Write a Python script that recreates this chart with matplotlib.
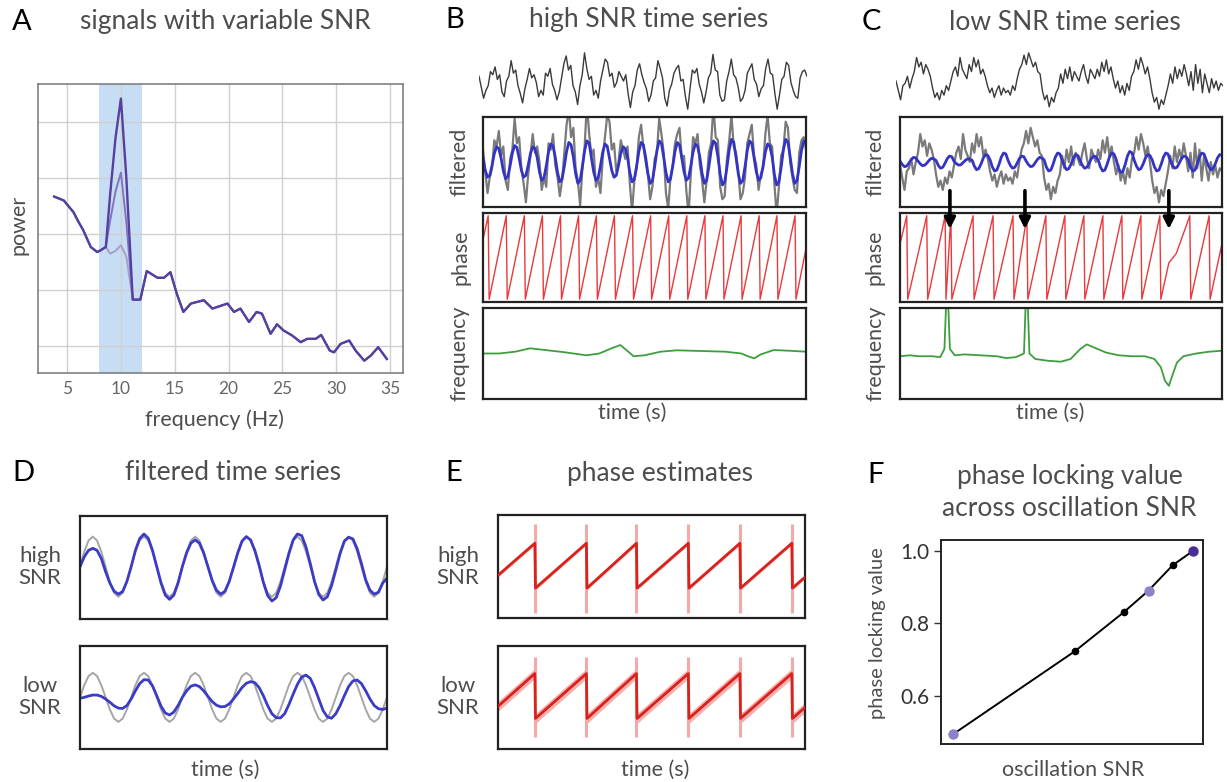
import numpy as np
import matplotlib
matplotlib.use("Agg")
import matplotlib.pyplot as plt

plt.rcParams['font.family'] = ['Lato', 'DejaVu Sans']

# ---------------- data ----------------
# Panel A: power spectra (arbitrary log-power units)
A_freqs = [3.8, 4.7, 5.6, 6.0, 6.5, 7.2, 7.8, 8.1, 8.6, 9.0, 9.5, 10.0, 10.5, 11.1, 11.8,
           12.4, 13.4, 14.0, 14.6, 15.2, 15.8, 16.5, 17.7, 18.5, 19.9, 20.5, 21.1, 21.9,
           22.6, 23.1, 23.9, 24.5, 25.1, 25.9, 26.7, 27.3, 28.1, 28.6, 29.4, 29.8, 30.4,
           31.2, 31.8, 32.6, 33.2, 33.9, 34.7]
A_base = [2.67, 2.60, 2.39, 2.24, 2.07, 1.77, 1.68, 1.71, 1.77, 1.65, 1.70, 1.80, 1.60, 0.83, 0.83,
          1.34, 1.22, 1.22, 1.32, 0.93, 0.61, 0.76, 0.82, 0.67, 0.76, 0.61, 0.67, 0.43,
          0.61, 0.58, 0.22, 0.39, 0.28, 0.19, 0.07, 0.13, 0.13, 0.20, -0.08, -0.11, 0.04,
          0.10, -0.08, -0.26, -0.17, -0.02, -0.23]
A_mid = [2.67, 2.60, 2.39, 2.24, 2.07, 1.77, 1.68, 1.71, 1.77, 2.24, 2.76, 3.10, 2.22, 0.83, 0.83,
         1.34, 1.22, 1.22, 1.32, 0.93, 0.61, 0.76, 0.82, 0.67, 0.76, 0.61, 0.67, 0.43,
         0.61, 0.58, 0.22, 0.39, 0.28, 0.19, 0.07, 0.13, 0.13, 0.20, -0.08, -0.11, 0.04,
         0.10, -0.08, -0.26, -0.17, -0.02, -0.23]
A_high = [2.67, 2.60, 2.39, 2.24, 2.07, 1.77, 1.68, 1.71, 1.77, 2.71, 3.72, 4.42, 3.02, 0.83, 0.83,
          1.34, 1.22, 1.22, 1.32, 0.93, 0.61, 0.76, 0.82, 0.67, 0.76, 0.61, 0.67, 0.43,
          0.61, 0.58, 0.22, 0.39, 0.28, 0.19, 0.07, 0.13, 0.13, 0.20, -0.08, -0.11, 0.04,
          0.10, -0.08, -0.26, -0.17, -0.02, -0.23]
A_xticks = [5, 10, 15, 20, 25, 30, 35]

# Panel B: high SNR time series (144 samples across the window)
B_raw = [0.4, -0.3, -1.0, -0.5, -0.2, 0.7, 0.5, 1.0,
         0.2, 0.5, -0.6, -0.9, 0.1, 0.4, 1.4, 0.6,
         0.8, -0.2, -0.7, -1.3, -0.4, 0.2, 0.9, 0.3,
         0.5, 0.0, -0.9, -0.5, -0.8, 0.6, 0.4, 0.9,
         -0.1, -0.5, -1.1, -0.6, 0.3, 1.2, 1.7, 0.8,
         1.1, -0.2, -0.6, -1.4, -0.2, 0.5, 1.9, 0.9,
         0.2, 0.4, -0.8, -0.5, -1.0, 0.1, 0.8, 1.5,
         1.3, 0.4, 0.6, -0.3, 0.0, 0.7, 0.4, 0.1,
         0.5, -0.7, -1.6, -0.6, -0.2, 0.8, 1.2, 0.5,
         0.0, -0.4, -1.2, -0.8, 0.1, 0.3, 1.4, 0.9,
         0.3, -1.0, -1.5, -0.5, -0.1, 0.6, 0.9, 1.1,
         0.1, 0.2, -0.9, -1.7, -0.4, 0.8, 0.6, 0.9,
         -0.1, -0.6, -1.3, -0.6, 0.3, 0.6, 1.8, 0.8,
         0.7, -0.8, -1.2, -1.1, 0.1, 0.7, 1.5, 0.5,
         0.3, -0.3, -1.2, -1.0, -0.5, 0.6, 0.9, 1.2,
         0.2, -0.1, -0.9, -0.4, -0.2, 0.9, 1.5, 0.6,
         0.5, -0.7, -1.7, -0.8, 0.2, 0.4, 1.3, 1.1,
         0.0, -0.5, -0.9, -1.0, 0.3, 0.7, 0.8, 0.4]
B_filt = [0.12, -0.27, -0.49, -0.43, -0.11, 0.27, 0.49, 0.43,
          0.13, -0.29, -0.54, -0.47, -0.12, 0.29, 0.53, 0.47,
          0.12, -0.27, -0.49, -0.43, -0.11, 0.27, 0.49, 0.43,
          0.14, -0.32, -0.59, -0.51, -0.13, 0.32, 0.58, 0.51,
          0.15, -0.34, -0.64, -0.55, -0.14, 0.34, 0.63, 0.55,
          0.16, -0.37, -0.69, -0.60, -0.15, 0.37, 0.68, 0.60,
          0.14, -0.32, -0.59, -0.51, -0.13, 0.32, 0.58, 0.51,
          0.12, -0.27, -0.49, -0.43, -0.11, 0.27, 0.49, 0.43,
          0.15, -0.34, -0.64, -0.55, -0.14, 0.34, 0.63, 0.55,
          0.16, -0.37, -0.69, -0.60, -0.15, 0.37, 0.68, 0.60,
          0.15, -0.34, -0.64, -0.55, -0.14, 0.34, 0.63, 0.55,
          0.14, -0.32, -0.59, -0.51, -0.13, 0.32, 0.58, 0.51,
          0.16, -0.37, -0.69, -0.60, -0.15, 0.37, 0.68, 0.60,
          0.17, -0.40, -0.74, -0.64, -0.17, 0.40, 0.73, 0.64,
          0.16, -0.37, -0.69, -0.60, -0.15, 0.37, 0.68, 0.60,
          0.14, -0.32, -0.59, -0.51, -0.13, 0.32, 0.58, 0.51,
          0.17, -0.40, -0.74, -0.64, -0.17, 0.40, 0.73, 0.64,
          0.16, -0.37, -0.69, -0.60, -0.15, 0.37, 0.68, 0.60]
B_wraps = [0.016, 0.072, 0.128, 0.184, 0.240, 0.296, 0.351, 0.407, 0.463, 0.519,
           0.575, 0.631, 0.687, 0.743, 0.799, 0.855, 0.910, 0.966]
B_phase_ends = [1.34, 0.68]
B_freq_t = [0.0, 0.05, 0.10, 0.146, 0.20, 0.25, 0.32, 0.36, 0.40, 0.425, 0.45, 0.466, 0.50,
            0.55, 0.60, 0.65, 0.70, 0.75, 0.80, 0.82, 0.84, 0.86, 0.90, 0.95, 1.0]
B_freq_v = [0.50, 0.50, 0.52, 0.557, 0.535, 0.515, 0.48, 0.50, 0.56, 0.593, 0.52, 0.47, 0.48,
            0.52, 0.535, 0.53, 0.525, 0.52, 0.50, 0.47, 0.447, 0.49, 0.538, 0.53, 0.52]

# Panel C: low SNR time series
C_raw = [-0.1, -0.5, -0.9, -0.3, -0.2, 0.1, -0.4, 0.0,
         0.3, 0.9, 0.5, 0.7, 0.2, 0.6, 0.4, 0.1,
         -0.4, -0.8, -0.6, -0.9, -0.5, -0.7, -0.3, -0.5,
         -0.1, 0.3, 0.5, 0.1, 0.9, 0.4, 0.2, 0.0,
         0.6, 0.3, 0.9, 0.5, 0.8, 0.2, 0.4, 0.1,
         -0.3, -0.6, -0.4, -0.8, -0.5, -0.3, -0.7, -0.4,
         -0.6, -0.5, -0.7, -0.3, -0.5, 0.0, 0.4, 0.6,
         1.0, 0.6, 1.1, 0.8, 0.5, 0.7, 0.3, 0.2,
         -0.5, -0.9, -0.7, -1.2, -0.8, -1.0, -0.6, -0.4,
         0.2, -0.2, 0.4, 0.0, 0.5, -0.1, 0.3, 0.1,
         -0.1, 0.3, 0.6, 0.1, -0.2, 0.4, 0.2, 0.0,
         0.4, 0.1, 0.7, 0.3, 0.8, 0.2, 0.5, 0.0,
         -0.4, -0.1, -0.6, -0.3, -0.7, -0.2, -0.5, 0.1,
         0.3, 0.8, 0.4, 0.9, 0.6, 0.2, 0.5, 0.0,
         -0.6, -1.0, -0.8, -1.3, -0.9, -1.1, -0.7, -0.3,
         0.2, -0.2, 0.5, 0.0, 0.4, 0.1, 0.6, 0.2,
         -0.3, 0.3, -0.5, 0.6, -0.2, 0.4, -0.6, 0.2,
         -0.2, -0.6, 0.0, -0.4, -0.1, -0.5, -0.2, -0.3]
C_filt = [0.03, -0.08, -0.15, -0.13, -0.03, 0.08, 0.15, 0.13,
          0.03, -0.06, -0.12, -0.10, -0.03, 0.06, 0.12, 0.10,
          0.05, -0.11, -0.20, -0.17, -0.04, 0.11, 0.19, 0.17,
          0.02, -0.05, -0.10, -0.09, -0.02, 0.05, 0.10, 0.09,
          0.06, -0.13, -0.25, -0.21, -0.06, 0.13, 0.24, 0.21,
          0.07, -0.16, -0.29, -0.26, -0.07, 0.16, 0.29, 0.26,
          0.05, -0.11, -0.20, -0.17, -0.04, 0.11, 0.19, 0.17,
          0.03, -0.08, -0.15, -0.13, -0.03, 0.08, 0.15, 0.13,
          0.07, -0.16, -0.29, -0.26, -0.07, 0.16, 0.29, 0.26,
          0.06, -0.13, -0.25, -0.21, -0.06, 0.13, 0.24, 0.21,
          0.05, -0.11, -0.20, -0.17, -0.04, 0.11, 0.19, 0.17,
          0.07, -0.16, -0.29, -0.26, -0.07, 0.16, 0.29, 0.26,
          0.08, -0.19, -0.34, -0.30, -0.08, 0.19, 0.34, 0.30,
          0.06, -0.13, -0.25, -0.21, -0.06, 0.13, 0.24, 0.21,
          0.07, -0.16, -0.29, -0.26, -0.07, 0.16, 0.29, 0.26,
          0.05, -0.11, -0.20, -0.17, -0.04, 0.11, 0.19, 0.17,
          0.07, -0.16, -0.29, -0.26, -0.07, 0.16, 0.29, 0.26,
          0.06, -0.13, -0.25, -0.21, -0.06, 0.13, 0.24, 0.21]
C_wraps = [0.021, 0.083, 0.140, 0.158, 0.227, 0.289, 0.351, 0.394, 0.453, 0.512,
           0.571, 0.630, 0.689, 0.748, 0.807, 0.900, 0.960]
C_phase_ends = [1.01, 1.05]
C_kink_t = [0.835, 0.858]
C_kink_v = [-0.4, 0.3]
C_arrows_t = [0.155, 0.388, 0.835]
C_freq_t = [0.0, 0.03, 0.06, 0.10, 0.125, 0.138, 0.143, 0.150, 0.155, 0.17, 0.20, 0.25, 0.30,
            0.33, 0.36, 0.385, 0.39, 0.397, 0.402, 0.42, 0.46, 0.50, 0.53, 0.56, 0.58, 0.60,
            0.64, 0.68, 0.72, 0.76, 0.79, 0.81, 0.823, 0.835, 0.845, 0.86, 0.88, 0.92, 0.96, 1.0]
C_freq_v = [0.47, 0.48, 0.47, 0.47, 0.46, 0.55, 1.02, 1.02, 0.55, 0.48, 0.49, 0.48, 0.47,
            0.45, 0.46, 0.50, 1.02, 1.02, 0.50, 0.44, 0.42, 0.41, 0.44, 0.55, 0.60, 0.57,
            0.51, 0.48, 0.47, 0.47, 0.44, 0.35, 0.20, 0.145, 0.25, 0.40, 0.47, 0.50, 0.52, 0.53]

# Panel D: filtered time series (73 samples)
D_true_high = [0, 0.46, 0.80, 0.92, 0.80, 0.46, 0, -0.46, -0.80, -0.92, -0.80, -0.46,
               0, 0.46, 0.80, 0.92, 0.80, 0.46, 0, -0.46, -0.80, -0.92, -0.80, -0.46,
               0, 0.46, 0.80, 0.92, 0.80, 0.46, 0, -0.46, -0.80, -0.92, -0.80, -0.46,
               0, 0.46, 0.80, 0.92, 0.80, 0.46, 0, -0.46, -0.80, -0.92, -0.80, -0.46,
               0, 0.46, 0.80, 0.92, 0.80, 0.46, 0, -0.46, -0.80, -0.92, -0.80, -0.46,
               0, 0.46, 0.80, 0.92, 0.80, 0.46, 0, -0.46, -0.80, -0.92, -0.80, -0.46, 0]
D_filt_high = [0.0, 0.3, 0.5, 0.56, 0.5, 0.25, -0.15, -0.5, -0.75, -0.84, -0.76, -0.45,
               0.0, 0.5, 0.86, 1.0, 0.87, 0.5, 0.0, -0.5, -0.87, -1.0, -0.87, -0.5,
               0.0, 0.42, 0.72, 0.82, 0.72, 0.42, 0.0, -0.42, -0.72, -0.84, -0.75, -0.45,
               -0.02, 0.42, 0.78, 0.92, 0.82, 0.5, 0.05, -0.48, -0.88, -1.05, -0.95, -0.6,
               -0.1, 0.4, 0.82, 1.0, 0.95, 0.6, 0.1, -0.45, -0.85, -1.02, -0.92, -0.58,
               -0.1, 0.4, 0.78, 0.9, 0.85, 0.55, 0.1, -0.4, -0.72, -0.84, -0.78, -0.5, -0.35]
D_true_low = [0, 0.37, 0.65, 0.75, 0.65, 0.37, 0, -0.37, -0.65, -0.75, -0.65, -0.37,
              0, 0.37, 0.65, 0.75, 0.65, 0.37, 0, -0.37, -0.65, -0.75, -0.65, -0.37,
              0, 0.37, 0.65, 0.75, 0.65, 0.37, 0, -0.37, -0.65, -0.75, -0.65, -0.37,
              0, 0.37, 0.65, 0.75, 0.65, 0.37, 0, -0.37, -0.65, -0.75, -0.65, -0.37,
              0, 0.37, 0.65, 0.75, 0.65, 0.37, 0, -0.37, -0.65, -0.75, -0.65, -0.37,
              0, 0.37, 0.65, 0.75, 0.65, 0.37, 0, -0.37, -0.65, -0.75, -0.65, -0.37, 0]
D_filt_low = [-0.03, 0.0, 0.04, 0.07, 0.07, 0.03, -0.05, -0.15, -0.26, -0.33, -0.34, -0.25,
              -0.05, 0.2, 0.42, 0.54, 0.53, 0.35, 0.05, -0.27, -0.48, -0.54, -0.45, -0.25,
              0.0, 0.2, 0.34, 0.38, 0.33, 0.2, 0.03, -0.13, -0.24, -0.29, -0.28, -0.2,
              -0.05, 0.12, 0.3, 0.43, 0.48, 0.45, 0.3, 0.05, -0.25, -0.5, -0.62, -0.63,
              -0.5, -0.22, 0.1, 0.4, 0.62, 0.68, 0.58, 0.3, -0.05, -0.4, -0.6, -0.64,
              -0.5, -0.25, 0.05, 0.33, 0.5, 0.53, 0.42, 0.2, -0.05, -0.25, -0.35, -0.37, -0.33]

# Panel E: phase estimates
E_wraps = [0.120, 0.288, 0.451, 0.620, 0.788, 0.957]
E_high_ends = [-1.35, -1.6]
E_low_ends = [-1.45, -1.6]
E_high_spike = [-6.6, 5.9]
E_low_spike = [-5.7, 5.5]
E_high_band = 0.25
E_low_band = 0.7

# Panel F: phase locking value vs SNR
F_snr = [0.046, 0.51, 0.697, 0.792, 0.884, 0.962]
F_plv = [0.493, 0.722, 0.83, 0.89, 0.96, 1.0]
F_colors = ['#8d82c6', 'black', 'black', '#8d82c6', 'black', '#4a2c98']
F_sizes = [7.5, 5.5, 5.5, 7.5, 5.5, 7.5]
F_yticks = [0.6, 0.8, 1.0]

# ---------------- figure ----------------
W, H = 1227, 782
fig = plt.figure(figsize=(W / 100, H / 100), dpi=100)
TXT = '#4d4d4d'
PI = np.pi


def pax(x0, y0, x1, y1):
    return fig.add_axes([x0 / W, 1 - y1 / H, (x1 - x0) / W, (y1 - y0) / H])


def ftext(x, y, s, **kw):
    kw.setdefault('color', TXT)
    kw.setdefault('ha', 'center')
    kw.setdefault('va', 'center')
    fig.text(x / W, 1 - y / H, s, **kw)


def boxify(ax, lw=1.6, color='#222222'):
    ax.set_xticks([])
    ax.set_yticks([])
    for s in ax.spines.values():
        s.set_linewidth(lw)
        s.set_color(color)


def saw_vertices(wraps, ends, extra_t=(), extra_v=(), gap=0.003):
    pts = [(0.0, ends[0])]
    for w in wraps:
        pts.append((w, PI))
        pts.append((w + gap, -PI))
    pts += list(zip(extra_t, extra_v))
    pts.append((1.0, ends[1]))
    pts.sort(key=lambda p: p[0])
    return [p[0] for p in pts], [p[1] for p in pts]


LETTER = dict(color='black', fontsize=21, ha='left')
TITLE = dict(fontsize=19)
LABEL = dict(fontsize=15.5)
ROW = dict(fontsize=16, linespacing=1.1)

# ---- Panel A ----
axA = pax(38, 84, 403, 373)
axA.axvspan(8, 12, color='#c6ddf3', zorder=0.3, lw=0)
axA.plot(A_freqs, A_base, color='#a69ecb', lw=1.4, zorder=3)
axA.plot(A_freqs, A_mid, color='#8474c0', lw=1.4, zorder=3)
axA.plot(A_freqs, A_high, color='#55409e', lw=1.7, zorder=4)
axA.set_xlim(2.3, 36.2)
axA.set_ylim(-0.48, 4.68)
axA.set_xticks(A_xticks)
axA.set_yticks([0, 1, 2, 3, 4])
axA.set_yticklabels([])
axA.grid(True, color='#d0d0d0', lw=1)
axA.set_axisbelow(True)
axA.tick_params(length=0, labelsize=12.5, labelcolor='#666666', pad=6)
for s in axA.spines.values():
    s.set_color('#777777')
    s.set_linewidth(1.1)
ftext(12, 22, 'A', **LETTER)
ftext(225, 22, 'signals with variable SNR', **TITLE)
ftext(214, 420, 'frequency (Hz)', **LABEL)
ftext(18, 225, 'power', rotation=90, **LABEL)

# ---- Panels B and C ----
def ts_panel(xl, xr, raw, filt, wraps, ends, kink_t, kink_v, ft, fv):
    t = np.linspace(0, 1, len(raw))
    tf = np.linspace(0, 1, len(filt))
    axr = pax(xl - 4, 50, xr + 1, 112)
    axr.plot(t, raw, color='#3a3a3a', lw=1.0)
    axr.set_xlim(0, 1)
    axr.axis('off')

    axf = pax(xl, 117, xr, 207)
    axf.plot(t, raw, color='#7a7a7a', lw=1.6)
    axf.plot(tf, filt, color='#3434c4', lw=2.0)
    axf.set_xlim(0, 1)
    axf.set_ylim(-1.45, 1.45)
    boxify(axf)

    axp = pax(xl, 213, xr, 302)
    pt, pv = saw_vertices(wraps, ends, kink_t, kink_v)
    axp.plot(pt, pv, color='#e8393d', lw=1.0)
    axp.set_xlim(0, 1)
    axp.set_ylim(-3.35, 3.35)
    boxify(axp)
    axp.set_zorder(5)

    axq = pax(xl, 308, xr, 399)
    axq.plot(ft, fv, color='#3e9e3e', lw=1.3)
    axq.set_xlim(0, 1)
    axq.set_ylim(0, 1)
    boxify(axq)
    return axf, axp, axq


ts_panel(483, 806, B_raw, B_filt, B_wraps, B_phase_ends, [], [], B_freq_t, B_freq_v)
ftext(445, 20, 'B', **LETTER)
ftext(649, 20, 'high SNR time series', **TITLE)
ftext(460, 162, 'filtered', rotation=90, **LABEL)
ftext(460, 257, 'phase', rotation=90, **LABEL)
ftext(460, 353, 'frequency', rotation=90, **LABEL)
ftext(632, 413, 'time (s)', **LABEL)

axCf, axCp, axCq = ts_panel(900, 1222, C_raw, C_filt, C_wraps, C_phase_ends,
                            C_kink_t, C_kink_v, C_freq_t, C_freq_v)
for ta in C_arrows_t:
    axCp.annotate('', xy=(ta, 0.82), xytext=(ta, 1.25),
                  xycoords=('data', 'axes fraction'), textcoords=('data', 'axes fraction'),
                  arrowprops=dict(arrowstyle='-|>', lw=2.6, color='black', mutation_scale=16,
                                  shrinkA=0, shrinkB=0),
                  annotation_clip=False)
ftext(862, 22, 'C', **LETTER)
ftext(1065, 22, 'low SNR time series', **TITLE)
ftext(875, 162, 'filtered', rotation=90, **LABEL)
ftext(875, 257, 'phase', rotation=90, **LABEL)
ftext(875, 353, 'frequency', rotation=90, **LABEL)
ftext(1050, 413, 'time (s)', **LABEL)

# ---- Panel D ----
tD = np.linspace(0, 1, len(D_true_high))
axDh = pax(80, 516, 387, 619)
axDh.plot(tD, D_true_high, color='#a5a5a5', lw=1.4)
axDh.plot(tD, D_filt_high, color='#3b3bc6', lw=2.0)
axDh.set_xlim(0, 1)
axDh.set_ylim(-1.6, 1.55)
boxify(axDh)
axDl = pax(80, 646, 387, 749)
axDl.plot(tD, D_true_low, color='#a5a5a5', lw=1.4)
axDl.plot(tD, D_filt_low, color='#3b3bc6', lw=2.0)
axDl.set_xlim(0, 1)
axDl.set_ylim(-1.58, 1.57)
boxify(axDl)
ftext(12, 473, 'D', **LETTER)
ftext(233, 473, 'filtered time series', **TITLE)
ftext(40, 567, 'high\nSNR', **ROW)
ftext(40, 697, 'low\nSNR', **ROW)
ftext(225, 770, 'time (s)', **LABEL)

# ---- Panel E ----
def phase_est(ax, ends, spike, band):
    vt, vv = saw_vertices(E_wraps, ends, gap=0.002)
    for i in range(0, len(vt) - 1, 2):
        ax.fill_between([vt[i], vt[i + 1]], [vv[i] - band, vv[i + 1] - band],
                        [vv[i] + band, vv[i + 1] + band], color='#f6b0b0', lw=0, zorder=1)
    ax.vlines(E_wraps, spike[0], spike[1], color='#f4a8a8', lw=2.2, zorder=1)
    ax.plot(vt, vv, color='#d8221b', lw=2.0, zorder=3)
    ax.set_xlim(0, 1)


axEh = pax(498, 515, 805, 618)
phase_est(axEh, E_high_ends, E_high_spike, E_high_band)
axEh.set_ylim(-7.33, 7.10)
boxify(axEh)
axEl = pax(498, 646, 805, 749)
phase_est(axEl, E_low_ends, E_low_spike, E_low_band)
axEl.set_ylim(-7.42, 7.0)
boxify(axEl)
ftext(445, 473, 'E', **LETTER)
ftext(660, 473, 'phase estimates', **TITLE)
ftext(458, 567, 'high\nSNR', **ROW)
ftext(458, 697, 'low\nSNR', **ROW)
ftext(655, 770, 'time (s)', **LABEL)

# ---- Panel F ----
axF = pax(941, 540, 1203, 744)
axF.plot(F_snr, F_plv, color='black', lw=1.4, zorder=2)
for xs, ys, c, ms in zip(F_snr, F_plv, F_colors, F_sizes):
    axF.plot([xs], [ys], 'o', color=c, ms=ms, mec='none', zorder=3)
axF.set_xlim(0, 1)
axF.set_ylim(0.466, 1.03)
axF.set_xticks([])
axF.set_yticks(F_yticks)
axF.set_yticklabels(['0.6', '0.8', '1.0'])
axF.tick_params(axis='y', length=5, width=1, labelsize=15, labelcolor='#333333', color='#333333')
for s in axF.spines.values():
    s.set_linewidth(1.4)
    s.set_color('#222222')
ftext(867, 475, 'F', **LETTER)
ftext(1070, 476, 'phase locking value', **TITLE)
ftext(1069, 508, 'across oscillation SNR', **TITLE)
ftext(877, 633, 'phase locking value', rotation=90, fontsize=14.5)
ftext(1073, 770, 'oscillation SNR', **LABEL)

fig.savefig('out.png', dpi=100, facecolor='white')
